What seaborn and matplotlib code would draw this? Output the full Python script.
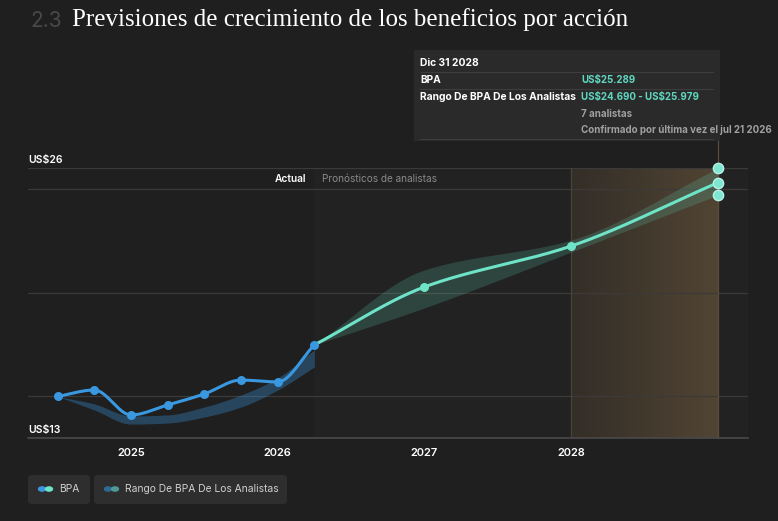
import numpy as np
import pandas as pd
import matplotlib.pyplot as plt
import seaborn as sns
from matplotlib.patches import FancyBboxPatch, Circle
from matplotlib.colors import LinearSegmentedColormap

# --- data ---
actual_x = [2024.5, 2024.75, 2025.0, 2025.25, 2025.5, 2025.75, 2026.0, 2026.25]
actual_eps = [15.0, 15.31, 14.11, 14.59, 15.12, 15.79, 15.70, 17.48]
actual_low = [15.0, 14.35, 13.67, 13.72, 14.01, 14.49, 15.31, 16.42]
actual_high = [15.0, 14.64, 14.06, 14.11, 14.49, 15.07, 15.89, 17.24]

fc_x = [2026.25, 2027.0, 2028.0, 2029.0]
fc_eps = [17.48, 20.27, 22.24, 25.289]
fc_low = [17.48, 19.26, 21.95, 24.690]
fc_high = [17.48, 21.09, 22.53, 25.979]

year_ticks = [2025, 2026, 2027, 2028]
grid_vals = [15, 20, 25, 26]

BG = "#1f1f1f"
BLUE = "#3a98e0"
MINT = "#6fe3c8"
W, H = 778, 521


def smooth(x, y, n=300):
    # monotone cubic, only used to draw the curve between the points
    x = np.asarray(x, float)
    y = np.asarray(y, float)
    h = np.diff(x)
    d = np.diff(y) / h
    m = np.zeros_like(y)
    m[0], m[-1] = d[0], d[-1]
    for i in range(1, len(y) - 1):
        if d[i - 1] * d[i] > 0:
            w1 = 2 * h[i] + h[i - 1]
            w2 = h[i] + 2 * h[i - 1]
            m[i] = (w1 + w2) / (w1 / d[i - 1] + w2 / d[i])
    xs = np.linspace(x[0], x[-1], n)
    idx = np.clip(np.searchsorted(x, xs) - 1, 0, len(h) - 1)
    t = (xs - x[idx]) / h[idx]
    ys = ((2 * t**3 - 3 * t**2 + 1) * y[idx] + (t**3 - 2 * t**2 + t) * h[idx] * m[idx]
          + (-2 * t**3 + 3 * t**2) * y[idx + 1] + (t**3 - t**2) * h[idx] * m[idx + 1])
    return xs, ys


def fx(px):
    return px / W


def fy(py):
    return 1 - py / H


sns.set_theme(style="dark", rc={"figure.facecolor": BG, "axes.facecolor": BG,
                                "savefig.facecolor": BG})
plt.rcParams["font.family"] = ["Inter", "DejaVu Sans"]

fig = plt.figure(figsize=(W / 100, H / 100), dpi=100)
ax = fig.add_axes([fx(28), fy(438), fx(748) - fx(28), fy(168) - fy(438)])
ax.set_xlim(2024.298, 2029.207)
ax.set_ylim(13, 26)

# forecast period background and the last-year highlight
ax.axvspan(2026.25, 2029.207, color="#222222", zorder=0, lw=0)
grad = np.linspace(0, 1, 256).reshape(1, -1)
cmap = LinearSegmentedColormap.from_list("hl", ["#332e28", "#514433"])
ax.imshow(grad, extent=[2028, 2029, 13, 26], aspect="auto", cmap=cmap, zorder=0.5)

for v in grid_vals:
    ax.axhline(v, color="#3c3a38", lw=0.9, zorder=1)
ax.axvline(2028, color="#4a4337", lw=0.9, zorder=1)
ax.plot([2029, 2029], [13, 27.35], color="#5a4d3e", lw=0.9, zorder=1, clip_on=False)

# bands
xs, lo = smooth(actual_x, actual_low)
_, hi = smooth(actual_x, actual_high)
ax.fill_between(xs, lo, hi, color=BLUE, alpha=0.33, lw=0, zorder=2)
xs2, lo2 = smooth(fc_x, fc_low)
_, hi2 = smooth(fc_x, fc_high)
ax.fill_between(xs2, lo2, hi2, color="#5fd3b5", alpha=0.2, lw=0, zorder=2)

# lines
xa, ya = smooth(actual_x, actual_eps)
sns.lineplot(x=xa, y=ya, ax=ax, color=BLUE, lw=2.2, sort=False, estimator=None, zorder=3)
xf, yf = smooth(fc_x, fc_eps)
sns.lineplot(x=xf, y=yf, ax=ax, color=MINT, lw=2.2, sort=False, estimator=None, zorder=3)

sns.scatterplot(x=actual_x, y=actual_eps, ax=ax, color=BLUE, s=42, lw=0, zorder=4)
sns.scatterplot(x=fc_x[1:3], y=fc_eps[1:3], ax=ax, color=MINT, s=42, lw=0, zorder=4)
sns.scatterplot(x=[fc_x[-1]] * 3, y=[fc_low[-1], fc_eps[-1], fc_high[-1]], ax=ax,
                color="#7fe6d2", edgecolor="#b8f2e6", s=55, lw=1, zorder=5, clip_on=False)

ax.text(2026.195, 25.47, "Actual", color="white", fontsize=7.3, fontweight="semibold",
        ha="right", va="center")
ax.text(2026.3, 25.47, "Pronósticos de analistas", color="#8a8a8a", fontsize=7.2,
        ha="left", va="center")

# axes styling
for s in ["top", "right", "left"]:
    ax.spines[s].set_visible(False)
ax.spines["bottom"].set_color("#4a4a4a")
ax.spines["bottom"].set_linewidth(1.2)
ax.set_yticks([])
ax.set_xticks(year_ticks)
ax.set_xticklabels([str(y) for y in year_ticks])
ax.tick_params(axis="x", colors="#5a5a5a", labelcolor="white", length=3, width=0.8,
               labelsize=8, pad=4)
for lbl in ax.get_xticklabels():
    lbl.set_fontweight("semibold")
ax.set_xlabel("")
ax.set_ylabel("")

fig.text(fx(28), fy(163), "US$26", color="white", fontsize=7.5, fontweight="semibold",
         ha="left", va="baseline")
fig.text(fx(28), fy(433), "US$13", color="white", fontsize=7.5, fontweight="semibold",
         ha="left", va="baseline")

# title
fig.text(fx(30), fy(21), "2.3", color="#4a4a4a", fontsize=15,
         ha="left", va="center")
fig.text(fx(72), fy(20), "Previsiones de crecimiento de los beneficios por acción",
         color="white", fontsize=18, family="Liberation Serif", ha="left", va="center")

# tooltip
fig.add_artist(FancyBboxPatch((fx(414), fy(141)), fx(720) - fx(414), fy(50) - fy(141),
                              boxstyle="square,pad=0", fc="#2a2a2a", ec="none",
                              transform=fig.transFigure, zorder=5))
for py in [72, 89, 139]:
    fig.add_artist(plt.Line2D([fx(420), fx(713)], [fy(py), fy(py)], color="#3d3d3d",
                              lw=0.8, transform=fig.transFigure, zorder=6))
tip_rows = [
    (420, 63, "Dic 31 2028", "white", 7.4),
    (420, 80, "BPA", "white", 7.4),
    (581, 80, "US$25.289", "#5fd6bf", 7.0),
    (420, 97, "Rango De BPA De Los Analistas", "white", 7.4),
    (581, 97, r"US\$24.690 - US\$25.979", "#5fd6bf", 7.0),
    (581, 114, "7 analistas", "#a0a0a0", 7.0),
    (581, 130, "Confirmado por última vez el jul 21 2026", "#a0a0a0", 7.0),
]
for px, py, txt, col, fs in tip_rows:
    fig.text(fx(px), fy(py), txt, color=col, fontsize=fs, fontweight="bold",
             ha="left", va="center", zorder=7)

# legend chips
for x0, x1, c1, c2, label in [(28, 90, BLUE, MINT, "BPA"),
                              (94, 287, "#2f6a96", "#4e9a92", "Rango De BPA De Los Analistas")]:
    fig.add_artist(FancyBboxPatch((fx(x0), fy(504)), fx(x1) - fx(x0), fy(475) - fy(504),
                                  boxstyle="round,pad=0,rounding_size=0.006", fc="#2e2e2e",
                                  ec="none", transform=fig.transFigure))
    for cx, col in [(x0 + 14, c1), (x0 + 21, c2)]:
        fig.add_artist(Circle((fx(cx), fy(489)), 4.2 / W, fc=col, ec="none",
                              transform=fig.transFigure))
    fig.text(fx(x0 + 31), fy(489), label, color="#d0d0d0", fontsize=7.4,
             ha="left", va="center")

fig.savefig("out.png", dpi=100)
